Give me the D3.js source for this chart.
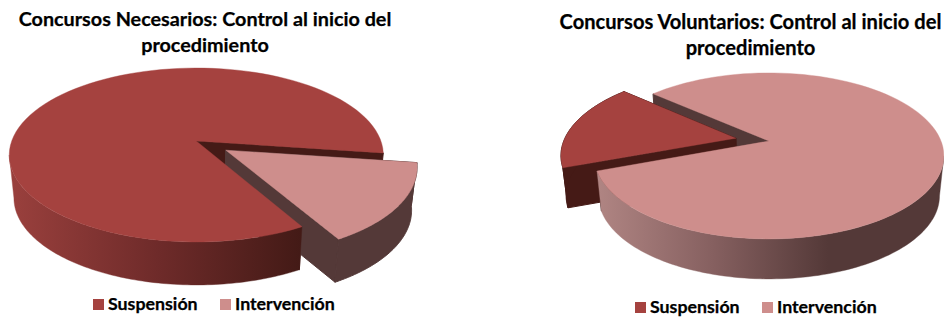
<!DOCTYPE html>
<html><head><meta charset="utf-8">
<script src="https://cdn.jsdelivr.net/npm/d3@7"></script>
<style>html,body{margin:0;padding:0;background:#fff}svg{display:block}text{font-family:Lato,"Open Sans",sans-serif;font-weight:700;fill:#000;stroke:#000;stroke-width:.25px}</style>
</head><body><svg id="c" width="944" height="320"></svg>
<script>
const categories = ["Suspensión", "Intervención"];
const valuesNecesarios = [85.4, 14.6];
const valuesVoluntarios = [17.1, 82.9];
const titleNecesarios = ["Concursos Necesarios: Control al inicio del", "procedimiento"];
const titleVoluntarios = ["Concursos Voluntarios: Control al inicio del", "procedimiento"];
const colors = ["#A5423F", "#CE8E8C"];
const darkColors = ["#451A16", "#543938"];

const svg = d3.select("#c");
const defs = svg.append("defs");
const rad = d => d * Math.PI / 180;

function drawPie(o) {
  const g = svg.append("g");
  const sx = d3.scaleLinear().domain([-1, 1]).range([-o.R, o.R]);
  const sy = d3.scaleLinear().domain([-1, 1]).range([-o.Ry, o.Ry]);
  const top = (u, v) => { const w = 1 - o.p * v; return [o.cx + sx(u) / w, o.cy + sy(v) / w]; };
  const low = (u, v) => { const w = 1 - o.p * v; return [o.cx + sx(u) / w * o.kx, o.cy + sy(v) / w + o.depth]; };
  const arcs = d3.pie().sort(null).startAngle(rad(o.start)).endAngle(rad(o.start + 360))(o.values);
  const line = d3.line();
  const fmt = pts => line(pts) + "Z";
  const off = a => { const m = (a.startAngle + a.endAngle) / 2;
    return a.index === o.exploded ? [o.explode * Math.sin(m), -o.explode * Math.cos(m)] : [0, 0]; };
  const uv = (a, t, r = 1) => { const [ou, ov] = off(a); return [ou + r * Math.sin(t), ov - r * Math.cos(t)]; };
  const sample = (s, e) => d3.range(0, 101).map(i => s + (e - s) * i / 100);
  const outer = (a, s, e) => {
    const ts = sample(s, e);
    return fmt(ts.map(t => top(...uv(a, t))).concat(ts.slice().reverse().map(t => low(...uv(a, t)))));
  };
  const radial = (a, t) => {
    const c = uv(a, 0, 0), r = uv(a, t);
    return fmt([top(...c), top(...r), low(...r), low(...c)]);
  };
  const face = a => fmt([top(...uv(a, 0, 0))].concat(sample(a.startAngle, a.endAngle).map(t => top(...uv(a, t)))));

  const main = arcs.find(a => a.index !== o.exploded);
  const ex = arcs.find(a => a.index === o.exploded);

  const gid = "wall" + o.id;
  const grad = defs.append("linearGradient").attr("id", gid).attr("gradientUnits", "userSpaceOnUse")
    .attr("x1", o.gradX[0]).attr("x2", o.gradX[1]).attr("y1", 0).attr("y2", 0);
  o.gradStops.forEach((c, i) => grad.append("stop").attr("offset", i / (o.gradStops.length - 1)).attr("stop-color", c));

  const sil = Math.asin(o.p);
  const segs = [0, 1, 2].map(k => [rad(90 + 360 * k) + sil, rad(270 + 360 * k) - sil])
    .map(([s, e]) => [Math.max(s, main.startAngle), Math.min(e, main.endAngle)])
    .filter(([s, e]) => e > s).sort((x, y) => (x[1] - x[0]) - (y[1] - y[0]));
  const mainFront = segs.pop();

  const wall = (d, fill) => g.append("path").attr("d", d).attr("fill", fill).attr("stroke", fill).attr("stroke-width", 1);
  const cap = (d, fill) => g.append("path").attr("d", d).attr("fill", fill).attr("stroke", fill).attr("stroke-width", 0.4);
  const mainDark = darkColors[main.index], exDark = darkColors[ex.index];

  wall(radial(main, main.startAngle), mainDark);
  wall(radial(main, main.endAngle), mainDark);
  segs.forEach(([s, e]) => wall(outer(main, s, e), mainDark));
  wall(radial(ex, ex.startAngle), exDark);
  wall(radial(ex, ex.endAngle), exDark);
  wall(outer(ex, ex.startAngle, ex.endAngle), exDark);
  cap(face(ex), colors[ex.index]);
  cap(outer(main, mainFront[0], mainFront[1]), `url(#${gid})`);
  cap(face(main), colors[main.index]);

  const tg = g.append("g").attr("text-anchor", "middle").style("font-size", o.titleSize + "px");
  o.title.forEach((t, i) => tg.append("text").attr("x", o.titleX).attr("y", o.titleY + i * o.titleLead).text(t));

  categories.forEach((c, i) => {
    g.append("rect").attr("x", o.legX[i]).attr("y", o.legY).attr("width", 11).attr("height", 11).attr("fill", colors[i]);
    g.append("text").attr("x", o.legX[i] + 15).attr("y", o.legY + 11).style("font-size", "17.8px").text(c);
  });
}

drawPie({ id: "A", values: valuesNecesarios, exploded: 1, start: 150.5, explode: 0.19,
  cx: 196.3, cy: 141, R: 184.6, Ry: 84.7, p: 0.161, kx: 0.975, depth: 43,
  gradX: [10, 302], gradStops: ["#9A403D", "#6F2B2A", "#431A16"],
  title: titleNecesarios, titleX: 205, titleY: 26, titleLead: 26, titleSize: 19.8, legX: [93, 220], legY: 299 });
drawPie({ id: "B", values: valuesVoluntarios, exploded: 0, start: 249.5, explode: 0.197,
  cx: 769, cy: 141, R: 172, Ry: 80.3, p: 0.18, kx: 0.975, depth: 40,
  gradX: [597, 828], gradStops: ["#B08583", "#866060", "#543938"],
  title: titleVoluntarios, titleX: 750.5, titleY: 29, titleLead: 26, titleSize: 20.1, legX: [635, 762], legY: 302 });
</script></body></html>
